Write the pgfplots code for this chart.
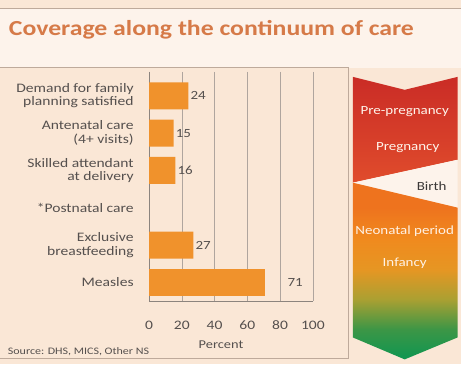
\documentclass[border=0pt]{standalone}
\usepackage{pgfplots}
\pgfplotsset{compat=1.18}
\usepackage{fontspec}
\setmainfont[FakeStretch=1.2]{Carlito}
\definecolor{bg}{RGB}{250,231,214}
\definecolor{titlebg}{RGB}{253,243,235}
\definecolor{titlecol}{RGB}{214,122,72}
\definecolor{linegray}{RGB}{190,170,155}
\definecolor{gridgray}{RGB}{175,165,158}
\definecolor{barorange}{RGB}{240,146,44}
\definecolor{txtgray}{RGB}{85,80,78}
\definecolor{redtop}{RGB}{202,44,38}
\definecolor{redlow}{RGB}{224,76,44}
\definecolor{org1}{RGB}{238,115,30}
\definecolor{org2}{RGB}{240,138,30}
\definecolor{org3}{RGB}{230,150,35}
\definecolor{olive}{RGB}{170,160,50}
\definecolor{grn}{RGB}{60,150,70}
\definecolor{grnbot}{RGB}{20,150,80}
\pgfdeclareverticalshading{redpart}{100bp}{%
  color(0bp)=(redlow); color(25bp)=(redlow); color(75bp)=(redtop); color(100bp)=(redtop)}
\pgfdeclareverticalshading{lowpart}{100bp}{%
  color(0bp)=(grnbot); color(26bp)=(grnbot); color(33.5bp)=(grn);
  color(42bp)=(olive); color(50.5bp)=(org3);
  color(59bp)=(org2); color(68bp)=(org1); color(100bp)=(org1)}
\begin{document}
\begin{tikzpicture}
\begin{scope}[x=1pt,y=-1pt]
\fill[bg] (0,0) rectangle (461,365);
\fill[titlebg] (0,8) rectangle (461,68);
\draw[linegray,line width=0.8pt] (0,8) -- (461,8);
\draw[linegray,line width=0.8pt] (0,68) -- (349,68) -- (349,359) -- (0,359);
\node[anchor=west,font=\bfseries\fontsize{21.5}{24}\selectfont,text=titlecol] at (5,30)
  {Coverage along the continuum of care};
% right banner
\shade[shading=redpart] (353,77) -- (405,90) -- (458,77) -- (458,160) -- (353,183) -- cycle;
\fill[titlebg] (353,183) -- (458,160) -- (458,208) -- cycle;
\shade[shading=lowpart] (353,183) -- (458,208) -- (458,338) -- (405,360) -- (353,338) -- cycle;
\begin{scope}[font=\fontsize{12.5}{14}\selectfont]
\node[text=white!92!orange] at (405,112) {Pre-pregnancy};
\node[text=white!92!orange] at (408,148) {Pregnancy};
\node[text=txtgray!70!black] at (432,187) {Birth};
\node[text=white!90!orange] at (405,232) {Neonatal period};
\node[text=white!90!orange] at (405,264) {Infancy};
\end{scope}
\node[anchor=west,text=txtgray,font=\fontsize{10}{12}\selectfont] at (4,352)
  {Source: DHS, MICS, Other NS};
\end{scope}
\begin{axis}[
  at={(149pt,-302pt)}, anchor=south west,
  scale only axis, width=164pt, height=230pt,
  xbar, bar width=27pt, bar shift=0pt,
  xmin=0, xmax=100, ymin=-0.64, ymax=5.51,
  y dir=reverse,
  axis x line=bottom, axis y line=left,
  axis line style={-, gridgray!80!black, line width=0.7pt},
  xtick={0,20,...,100}, ytick={0,...,5},
  yticklabels={{Demand for family\\planning satisfied},{Antenatal care\\(4+ visits)},
    {Skilled attendant\\at delivery},{*Postnatal care},{Exclusive\\breastfeeding},{Measles}},
  major tick length=0pt,
  xmajorgrids, grid style={gridgray, line width=0.6pt},
  yticklabel style={align=right, text=txtgray, font=\fontsize{13}{13.5}\selectfont, xshift=-12pt},
  xticklabel style={text=txtgray, font=\fontsize{13}{15}\selectfont, yshift=-16pt},
  xlabel={Percent}, xlabel style={text=txtgray, font=\fontsize{12}{14}\selectfont, yshift=-4pt, xshift=-10pt},
  /pgf/number format/assume math mode=true,
  nodes near coords,
  nodes near coords style={text=txtgray, font=\fontsize{12.5}{14}\selectfont, anchor=west, inner sep=2pt},
  clip=false,
]
\addplot[fill=barorange, draw=none] coordinates {(24,0) (15,1) (16,2) (27,4)};
\addplot[fill=barorange, draw=none, every node near coord/.append style={xshift=20pt}] coordinates {(71,5)};
\end{axis}
\end{tikzpicture}
\end{document}
